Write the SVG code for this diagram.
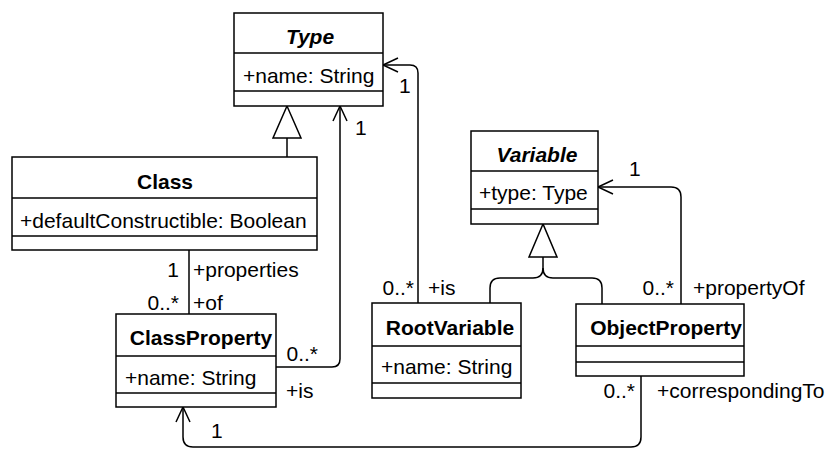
<svg xmlns="http://www.w3.org/2000/svg" width="828" height="449" viewBox="0 0 828 449">
  <style>
    .box { fill: #ffffff; stroke: #000000; stroke-width: 1.5; }
    .sep { stroke: #000000; stroke-width: 1.5; fill: none; }
    .edge { fill: none; stroke: #000000; stroke-width: 1.5; }
    .head { fill: none; stroke: #000000; stroke-width: 1.5; }
    .tri { fill: #ffffff; stroke: #000000; stroke-width: 1.5; }
    text { font-family: "Liberation Sans", Arial, sans-serif; font-size: 21px; fill: #000000; }
    .title { font-weight: bold; text-anchor: middle; }
    .abstract { font-weight: bold; font-style: italic; text-anchor: middle; }
    .end { text-anchor: end; }
  </style>
  <rect width="828" height="449" fill="#ffffff"/>

  <g id="connectors">
    <!-- Class generalizes Type -->
    <path class="edge" d="M287,157 V138"/>
    <polygon class="tri" points="287,106 273,138 301,138"/>

    <!-- Variable specializations (brace shaped) -->
    <path class="edge" d="M543,257 V268 Q543,278 533,278 H500 Q490,278 490,288 V303"/>
    <path class="edge" d="M543,268 Q543,278 553,278 H592 Q602,278 602,288 V304"/>
    <polygon class="tri" points="543,224 529,257 557,257"/>

    <!-- ClassProperty +is -> Type -->
    <path class="edge" d="M276,367 H332 Q340,367 340,359 V106"/>
    <path class="head" d="M333,121 L340,106 L347,121"/>

    <!-- RootVariable +is -> Type -->
    <path class="edge" d="M418,303 V73 Q418,65 410,65 H383"/>
    <path class="head" d="M398,58 L383,65 L398,72"/>

    <!-- ObjectProperty +propertyOf -> Variable -->
    <path class="edge" d="M681,304 V197 Q681,187 671,187 H598"/>
    <path class="head" d="M613,180 L598,187 L613,194"/>

    <!-- ObjectProperty +correspondingTo -> ClassProperty -->
    <path class="edge" d="M641,376 V437 Q641,447 631,447 H193 Q183,447 183,437 V407"/>
    <path class="head" d="M176,422 L183,407 L190,422"/>

    <!-- Class properties / of ClassProperty -->
    <path class="edge" d="M189,250 V314"/>

    <!-- end labels -->
    <text x="179" y="277" class="end">1</text>
    <text x="193" y="277">+properties</text>
    <text x="179" y="310" class="end">0..*</text>
    <text x="193" y="310">+of</text>

    <text x="318" y="361" class="end">0..*</text>
    <text x="286" y="398">+is</text>
    <text x="355" y="135">1</text>

    <text x="399" y="93">1</text>
    <text x="414" y="295" class="end">0..*</text>
    <text x="428" y="295">+is</text>

    <text x="629" y="176">1</text>
    <text x="674" y="295" class="end">0..*</text>
    <text x="693" y="295">+propertyOf</text>

    <text x="211" y="438">1</text>
    <text x="635" y="398" class="end">0..*</text>
    <text x="657" y="398">+correspondingTo</text>
  </g>

  <g id="Type">
    <rect class="box" x="234" y="13" width="149" height="93"/>
    <line class="sep" x1="234" y1="53" x2="383" y2="53"/>
    <line class="sep" x1="234" y1="91" x2="383" y2="91"/>
    <text x="310" y="44" class="abstract">Type</text>
    <text x="243" y="83">+name: String</text>
  </g>

  <g id="Class">
    <rect class="box" x="12" y="157" width="305" height="93"/>
    <line class="sep" x1="12" y1="198" x2="317" y2="198"/>
    <line class="sep" x1="12" y1="236" x2="317" y2="236"/>
    <text x="165" y="189" class="title">Class</text>
    <text x="20" y="228">+defaultConstructible: Boolean</text>
  </g>

  <g id="ClassProperty">
    <rect class="box" x="116" y="314" width="160" height="93"/>
    <line class="sep" x1="116" y1="356" x2="276" y2="356"/>
    <line class="sep" x1="116" y1="393" x2="276" y2="393"/>
    <text x="201" y="345" class="title">ClassProperty</text>
    <text x="125" y="385">+name: String</text>
  </g>

  <g id="Variable">
    <rect class="box" x="471" y="131" width="127" height="93"/>
    <line class="sep" x1="471" y1="171" x2="598" y2="171"/>
    <line class="sep" x1="471" y1="209" x2="598" y2="209"/>
    <text x="537" y="162" class="abstract">Variable</text>
    <text x="479" y="200">+type: Type</text>
  </g>

  <g id="RootVariable">
    <rect class="box" x="372" y="303" width="149" height="95"/>
    <line class="sep" x1="372" y1="346" x2="521" y2="346"/>
    <line class="sep" x1="372" y1="383" x2="521" y2="383"/>
    <text x="450" y="335" class="title">RootVariable</text>
    <text x="381" y="374">+name: String</text>
  </g>

  <g id="ObjectProperty">
    <rect class="box" x="576" y="304" width="168" height="72"/>
    <line class="sep" x1="576" y1="346" x2="744" y2="346"/>
    <line class="sep" x1="576" y1="362" x2="744" y2="362"/>
    <text x="666" y="335" class="title">ObjectProperty</text>
  </g>
</svg>
